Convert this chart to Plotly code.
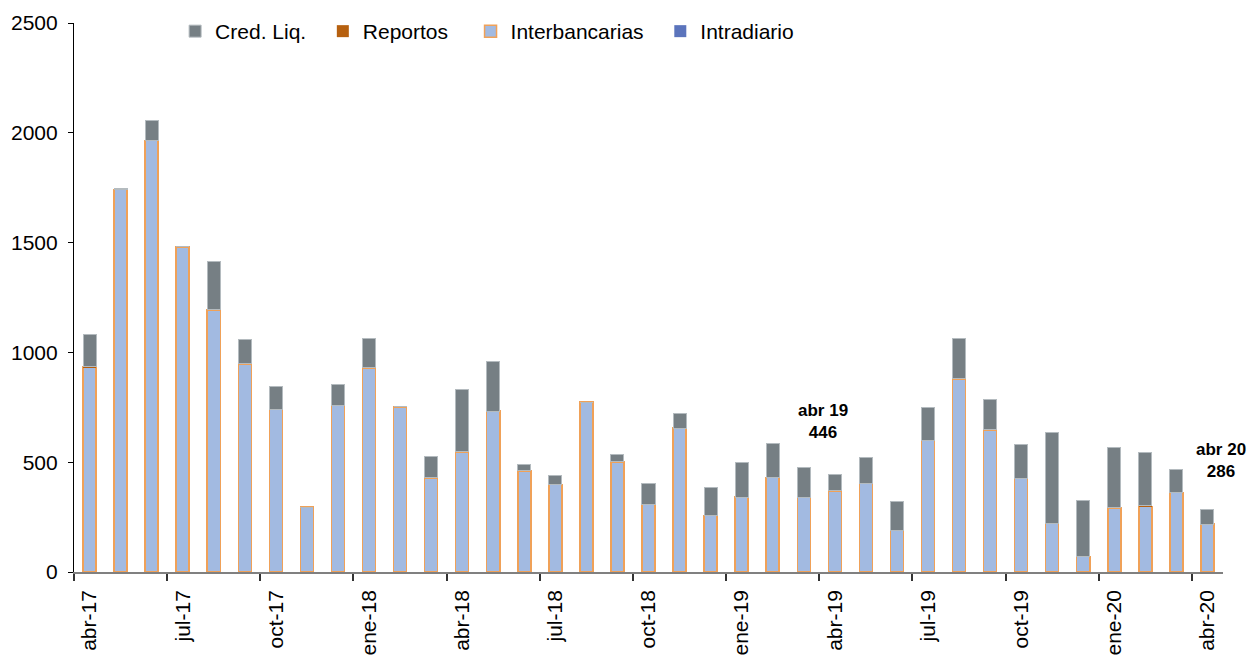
import plotly.graph_objects as go

months = ["abr-17","may-17","jun-17","jul-17","ago-17","sep-17","oct-17","nov-17","dic-17",
          "ene-18","feb-18","mar-18","abr-18","may-18","jun-18","jul-18","ago-18","sep-18",
          "oct-18","nov-18","dic-18","ene-19","feb-19","mar-19","abr-19","may-19","jun-19",
          "jul-19","ago-19","sep-19","oct-19","nov-19","dic-19","ene-20","feb-20","mar-20","abr-20"]

interbancarias = [933, 1742, 1966, 1481, 1194, 948, 741, 295, 758,
                  929, 752, 429, 547, 733, 461, 398, 774, 502,
                  307, 655, 258, 341, 430, 339, 370, 404, 191,
                  598, 879, 647, 427, 223, 70, 292, 298, 362, 218]
reportos = [4, 0, 0, 0, 0, 0, 0, 0, 0,
            0, 0, 0, 0, 0, 0, 0, 0, 0,
            0, 0, 0, 0, 0, 0, 0, 0, 0,
            3, 0, 0, 0, 0, 0, 0, 4, 0, 0]
cred_liq = [145, 5, 91, 0, 221, 113, 103, 0, 95,
            136, 0, 98, 283, 226, 30, 43, 0, 34,
            96, 69, 125, 157, 155, 137, 76, 117, 129,
            146, 186, 138, 155, 413, 254, 276, 241, 105, 68]
intradiario = [0] * len(months)

tick_labels = ["abr-17","jul-17","oct-17","ene-18","abr-18","jul-18","oct-18",
               "ene-19","abr-19","jul-19","oct-19","ene-20","abr-20"]

callouts = [("abr-19", "abr 19<br>446", -12, 30), ("abr-20", "abr 20<br>286", 14, 26)]

x = list(range(len(months)))
tick_pos = [months.index(t) for t in tick_labels]
boundary_pos = [p - 0.5 for p in tick_pos]

FONT = "Liberation Sans, Arial, sans-serif"
W = 0.42
NB = "\u00a0"

fig = go.Figure()
fig.add_trace(go.Bar(x=x, y=intradiario, name="Intradiario", width=W,
                     marker=dict(color="#5B74BC", line=dict(width=0))))
fig.add_trace(go.Bar(x=x, y=interbancarias, name="Interbancarias" + NB * 2, width=W,
                     marker=dict(color="#A2BAE1", line=dict(color="#F0A158", width=1.5))))
fig.add_trace(go.Bar(x=x, y=reportos, name="Reportos" + NB * 3, width=W,
                     marker=dict(color="#B6600F", line=dict(width=0))))
fig.add_trace(go.Bar(x=x, y=cred_liq, name="Cred. Liq." + NB * 2, width=W,
                     marker=dict(color="#767F84", line=dict(color="#B4BBBF", width=1))))

totals = [a + b + c + d for a, b, c, d in zip(interbancarias, reportos, cred_liq, intradiario)]
for m, txt, xs, ys in callouts:
    i = months.index(m)
    fig.add_annotation(x=i, y=totals[i], text="<b>" + txt + "</b>", showarrow=False,
                       xanchor="center", yanchor="bottom", xshift=xs, yshift=ys,
                       font=dict(family=FONT, size=17, color="black"))

fig.update_layout(
    barmode="stack",
    width=1260, height=658,
    margin=dict(l=74, r=37, t=22, b=86),
    plot_bgcolor="white", paper_bgcolor="white",
    font=dict(family=FONT, size=21, color="black"),
    showlegend=True,
    legend=dict(orientation="h", traceorder="reversed", x=0.088, y=1.02,
                xanchor="left", yanchor="top", font=dict(size=21),
                bgcolor="rgba(0,0,0,0)"),
    xaxis=dict(range=[-0.5, len(months) - 0.5], tickmode="array", automargin=False,
               tickvals=tick_pos, ticktext=tick_labels, tickangle=-90,
               ticks="", ticklabelstandoff=8, tickfont=dict(size=21),
               showgrid=False, zeroline=False, showline=True,
               linecolor="#808080", linewidth=1.5,
               minor=dict(tickmode="array", tickvals=boundary_pos, ticks="outside",
                          ticklen=7, tickcolor="#333333", tickwidth=1.5, showgrid=False)),
    yaxis=dict(range=[0, 2500], dtick=500, ticks="outside", ticklen=5, automargin=False,
               ticklabelstandoff=6,
               tickcolor="black", showgrid=False, zeroline=False, showline=True,
               linecolor="black", linewidth=1.2, tickfont=dict(size=21)),
)

fig.write_html("out.html", config={"displayModeBar": False},
               post_script="document.body.style.margin='0';document.body.style.overflow='hidden';")
